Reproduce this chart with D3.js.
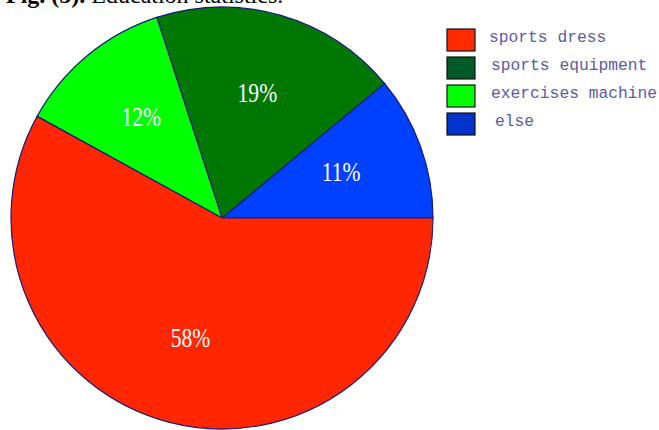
<!DOCTYPE html>
<html>
<head>
<meta charset="utf-8">
<script src="https://cdn.jsdelivr.net/npm/d3@7"></script>
<style>
  html, body { margin: 0; padding: 0; background: #fff; }
</style>
</head>
<body>
<div id="plot"></div>
<script>
// slices go anticlockwise from 3 o'clock
let categories = ['else', 'sports equipment', 'exercises machine', 'sports dress'];
let values = [11, 19, 12, 58];
let pieColors = ['#0040FF', '#007700', '#00FF00', '#FF2600'];

let legendOrder = ['sports dress', 'sports equipment', 'exercises machine', 'else'];
let legendColors = ['#FF2A00', '#005A2A', '#00FF00', '#0033CC'];

let width = 659, height = 430;
let cx = 222, cy = 218, radius = 211;

let svg = d3.select('#plot')
    .append('svg')
        .attr('width', width)
        .attr('height', height);

// caption, cut off by the top of the picture as in the source
let caption = svg.append('text')
    .attr('x', 6)
    .attr('y', 3)
    .style('font-family', '"Liberation Serif", serif')
    .style('font-size', '24px')
    .style('fill', '#000');
caption.append('tspan').style('font-weight', 'bold').text('Fig. (5).');
caption.append('tspan').text(' Education statistics.');

let data = categories.map(function(c, i) {
    return { name: c, value: values[i], color: pieColors[i] };
});

let pie = d3.pie()
    .value(function(d) { return d.value; })
    .sort(null)
    .startAngle(Math.PI / 2)
    .endAngle(Math.PI / 2 - 2 * Math.PI);

let arc = d3.arc().innerRadius(0).outerRadius(radius);
let labelArc = d3.arc().innerRadius(radius * 0.6).outerRadius(radius * 0.6);

let g = svg.append('g')
    .attr('transform', 'translate(' + cx + ',' + cy + ')');

g.selectAll('path')
    .data(pie(data))
    .enter()
    .append('path')
        .attr('d', arc)
        .attr('fill', function(d) { return d.data.color; })
        .attr('stroke', '#1a1a7a')
        .attr('stroke-width', 1.2);

g.selectAll('.pct')
    .data(pie(data))
    .enter()
    .append('text')
        .attr('class', 'pct')
        .attr('transform', function(d) {
            let c = labelArc.centroid(d);
            return 'translate(' + c[0] + ',' + c[1] + ') scale(0.8,1)';
        })
        .attr('dy', '0.22em')
        .attr('text-anchor', 'middle')
        .style('font-family', '"Liberation Serif", serif')
        .style('font-size', '27px')
        .style('fill', '#fff')
        .text(function(d) { return d.data.value + '%'; });

// legend
let y = d3.scaleBand()
    .domain(legendOrder)
    .range([29, 29 + 28 * legendOrder.length]);

let legend = svg.selectAll('.legend')
    .data(legendOrder)
    .enter()
    .append('g')
        .attr('class', 'legend')
        .attr('transform', function(d) { return 'translate(447,' + y(d) + ')'; });

legend.append('rect')
    .attr('width', 28)
    .attr('height', 22)
    .attr('fill', function(d, i) { return legendColors[i]; })
    .attr('stroke', '#111')
    .attr('stroke-width', 1.2);

legend.append('text')
    .attr('x', function(d, i) { return i == 0 ? 42 : (i == 3 ? 48 : 44); })
    .attr('y', 13)
    .style('font-family', '"Liberation Mono", monospace')
    .style('font-size', '16.3px')
    .style('fill', '#5a5aa8')
    .text(function(d) { return d; });
</script>
</body>
</html>
